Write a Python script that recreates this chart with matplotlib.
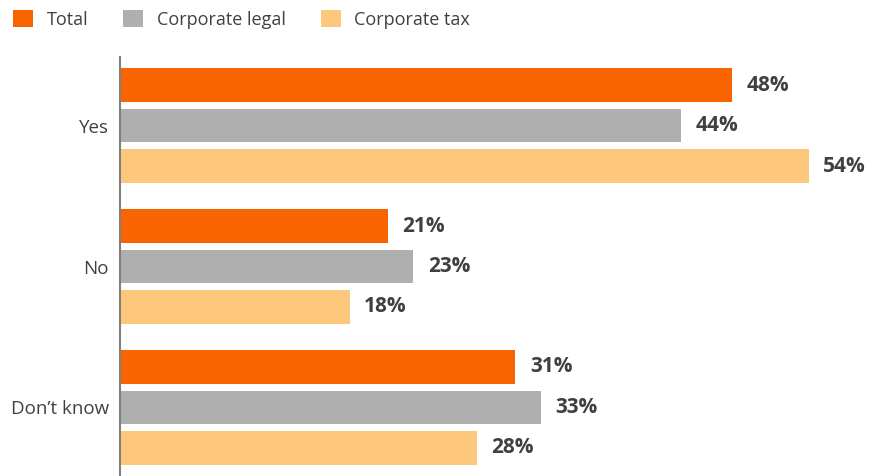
import matplotlib
matplotlib.use("Agg")
import matplotlib.pyplot as plt
from matplotlib.patches import Patch
import numpy as np

plt.rcParams['font.family'] = ['Open Sans', 'DejaVu Sans']

# Данные
categories = ['Yes', 'No', 'Don\u2019t know']
series_names = ['Total', 'Corporate legal', 'Corporate tax']
total = [48, 21, 31]
corporate_legal = [44, 23, 33]
corporate_tax = [54, 18, 28]

colors = ['#F96400', '#AFAFAF', '#FEC87C']
text_color = '#404040'

W, H = 871, 476
fig = plt.figure(figsize=(W / 100, H / 100), dpi=100)

# Ось: левый край 120px, верх 57px, до низа рисунка
px_per_pct = 12.75
ax = fig.add_axes([120 / W, 0, (W - 120) / W, (H - 57) / H])
ax.set_xlim(0, (W - 120) / px_per_pct)
ax.set_ylim(2.486, -0.486)

y = np.arange(len(categories))
pitch = 40.5 / 141
height = 33.7 / 141

for i, (vals, color) in enumerate(zip([total, corporate_legal, corporate_tax], colors)):
    pos = y + (i - 1) * pitch
    ax.barh(pos, vals, height=height, color=color, linewidth=0)
    for p, v in zip(pos, vals):
        ax.annotate(f'{v}%', xy=(v, p), xytext=(10.5, 0), textcoords='offset points',
                    ha='left', va='center', fontsize=15, fontweight='bold',
                    color=text_color)

ax.set_yticks(y)
ax.set_yticklabels(categories, fontsize=13.5, color=text_color)
ax.tick_params(axis='y', length=0, pad=8)
ax.set_xticks([])

for side in ['top', 'right', 'bottom']:
    ax.spines[side].set_visible(False)
ax.spines['left'].set_color('#808080')
ax.spines['left'].set_linewidth(1.5)

# Легенда
handles = [Patch(facecolor=c, edgecolor='none') for c in colors]
fig.legend(handles, series_names, loc='center left',
           bbox_to_anchor=(13 / W, 1 - 19.5 / H),
           ncol=3, frameon=False, fontsize=13, labelcolor=text_color,
           handlelength=1.1, handleheight=1.1, handletextpad=0.75,
           columnspacing=1.95, borderaxespad=0, borderpad=0)

fig.savefig('out.png', dpi=100)
